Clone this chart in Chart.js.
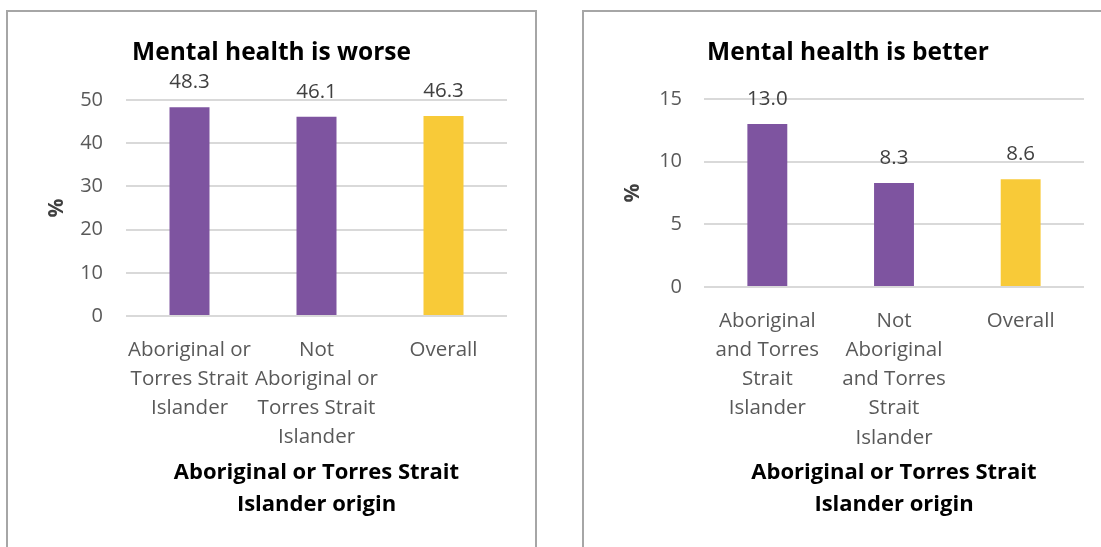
<!DOCTYPE html>
<html>
<head>
<meta charset="utf-8">
<script src="https://cdn.jsdelivr.net/npm/chart.js@4"></script>
<style>
  html, body { margin: 0; padding: 0; background: #fff; }
  body { width: 1101px; height: 547px; position: relative; overflow: hidden; }
  .frame { position: absolute; border-left: 2px solid #a6a6a6; border-top: 2px solid #a6a6a6; }
  .frame.left { left: 6px; top: 10px; width: 527px; height: 560px; border-right: 2px solid #a6a6a6; }
  .frame.right { left: 582px; top: 10px; width: 560px; height: 560px; }
  canvas { position: absolute; }
</style>
</head>
<body>
<div class="frame left"></div>
<div class="frame right"></div>
<canvas id="worseChart" style="left:8px; top:12px;"></canvas>
<canvas id="betterChart" style="left:584px; top:12px;"></canvas>
<script>
const worseLabels = [
    ["Aboriginal or", "Torres Strait", "Islander"],
    ["Not", "Aboriginal or", "Torres Strait", "Islander"],
    ["Overall"],
];
const betterLabels = [
    ["Aboriginal", "and Torres", "Strait", "Islander"],
    ["Not", "Aboriginal", "and Torres", "Strait", "Islander"],
    ["Overall"],
];
const worseValues = [48.3, 46.1, 46.3];
const betterValues = [13.0, 8.3, 8.6];
const barColors = ["#7e54a0", "#7e54a0", "#f8ca38"];

const fontFamily = "'Open Sans', Lato, sans-serif";

// value labels above each bar
const valueLabels = {
    id: "valueLabels",
    afterDatasetsDraw(chart) {
        const ctx = chart.ctx;
        const meta = chart.getDatasetMeta(0);
        ctx.save();
        ctx.font = "20.5px " + fontFamily;
        ctx.fillStyle = "#404040";
        ctx.textAlign = "center";
        ctx.textBaseline = "middle";
        meta.data.forEach((bar, i) => {
            const v = chart.data.datasets[0].data[i];
            ctx.fillText(v.toFixed(1), bar.x, bar.y - 25);
        });
        ctx.restore();
    },
};

function makeChart(canvas, opts) {
    canvas.width = opts.width;
    canvas.height = 535;
    canvas.style.width = opts.width + "px";
    canvas.style.height = "535px";

    return new Chart(canvas, {
        type: "bar",
        data: {
            labels: opts.labels,
            datasets: [
                {
                    data: opts.values,
                    backgroundColor: barColors,
                    categoryPercentage: 1,
                    barPercentage: 0.315,
                },
            ],
        },
        options: {
            responsive: false,
            animation: false,
            // equal side padding keeps the chart title centred on the panel
            layout: { padding: { left: 28, right: 28, top: 0, bottom: 0 } },
            scales: {
                x: {
                    grid: { display: false },
                    border: { display: false },
                    ticks: {
                        color: "#595959",
                        font: { family: fontFamily, size: 20.5, lineHeight: 1.43 },
                        padding: 11,
                        maxRotation: 0,
                        autoSkip: false,
                    },
                    title: {
                        display: true,
                        text: ["Aboriginal or Torres Strait", "Islander origin"],
                        color: "#000",
                        font: { family: fontFamily, size: 22, weight: "bold", lineHeight: 1.45 },
                        padding: { top: 0, bottom: 26 },
                    },
                    afterFit(scale) {
                        scale.height = opts.xHeight;
                    },
                },
                y: {
                    min: 0,
                    max: opts.max,
                    grid: { color: "#d9d9d9", lineWidth: 2, drawTicks: false },
                    border: { display: false },
                    ticks: {
                        stepSize: opts.step,
                        color: "#595959",
                        font: { family: fontFamily, size: 20 },
                        padding: opts.tickPad,
                    },
                    title: {
                        display: true,
                        text: "%",
                        color: "#404040",
                        font: { family: fontFamily, size: 21, weight: "bold", lineHeight: 1.2 },
                        padding: { top: 8, bottom: 0 },
                    },
                    afterFit(scale) {
                        scale.width = opts.yWidth;
                    },
                },
            },
            plugins: {
                legend: { display: false },
                tooltip: { enabled: false },
                title: {
                    display: true,
                    text: opts.title,
                    color: "#000",
                    font: { family: fontFamily, size: 24.5, weight: "bold", lineHeight: 1.2 },
                    padding: { top: 26.3, bottom: opts.titleBottom },
                },
            },
        },
        plugins: [valueLabels],
    });
}

makeChart(document.getElementById("worseChart"), {
    width: 527,
    labels: worseLabels,
    values: worseValues,
    title: "Mental health is worse",
    max: 50,
    step: 10,
    yWidth: 90,
    tickPad: 23,
    xHeight: 231,
    titleBottom: 32.3,
});

makeChart(document.getElementById("betterChart"), {
    width: 528,
    labels: betterLabels,
    values: betterValues,
    title: "Mental health is better",
    max: 15,
    step: 5,
    yWidth: 92,
    tickPad: 22,
    xHeight: 260,
    titleBottom: 31.3,
});
</script>
</body>
</html>
